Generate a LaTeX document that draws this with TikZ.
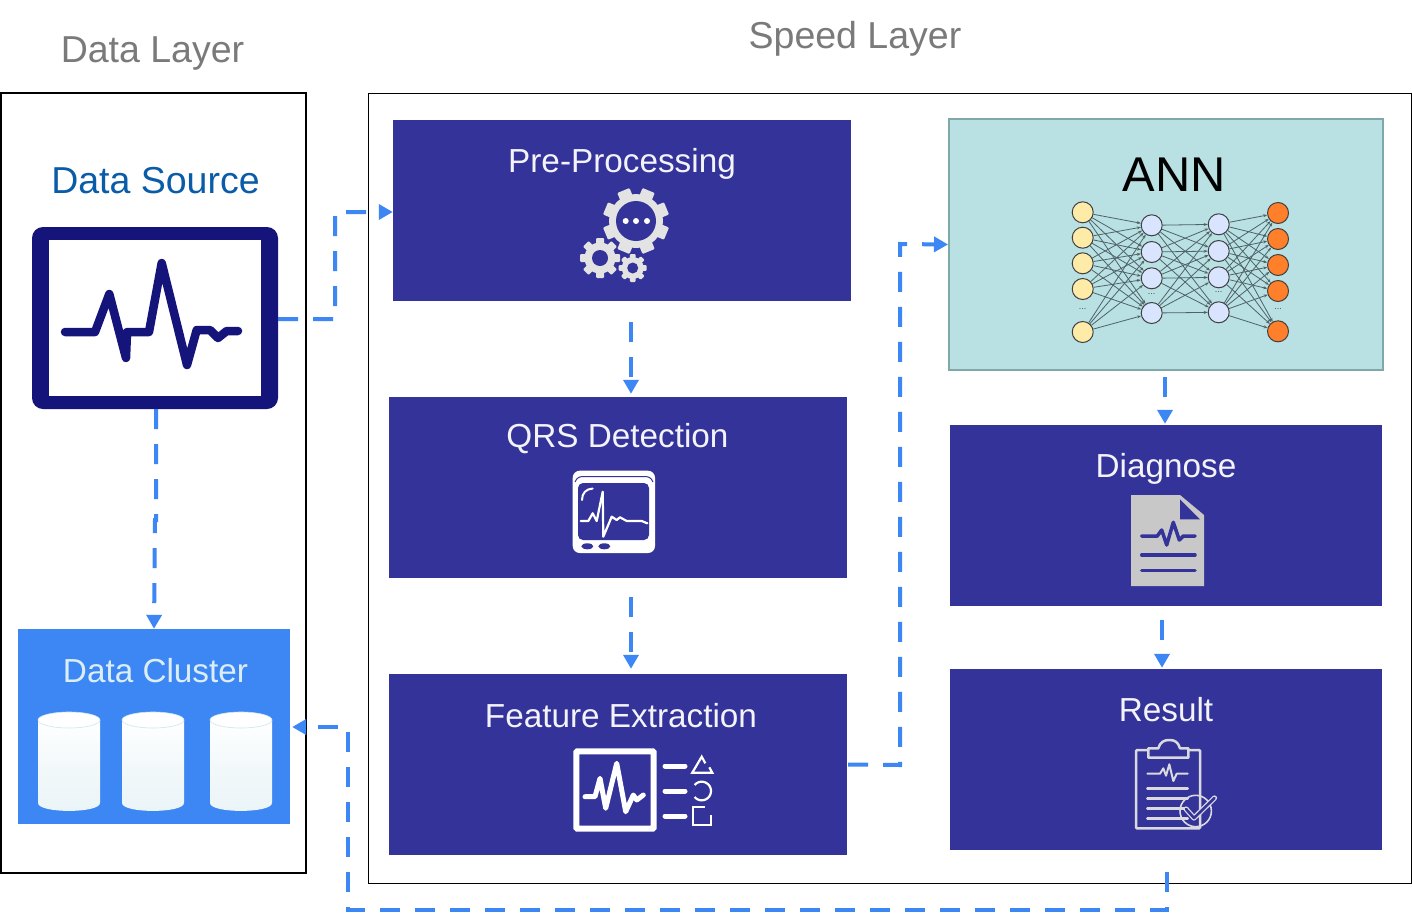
\documentclass[tikz,border=0pt]{standalone}
\usepackage{fontspec}
\setmainfont{Liberation Sans}
\usetikzlibrary{arrows.meta}
\definecolor{boxblue}{HTML}{333399}
\definecolor{flowblue}{HTML}{3D87F5}
\definecolor{navy}{HTML}{14147A}
\definecolor{gearfill}{HTML}{E3E3E3}
\definecolor{paperfill}{HTML}{C8C8C8}
\definecolor{clipfill}{HTML}{D9D9DE}
\definecolor{annfill}{HTML}{B9E0E3}
\definecolor{annedge}{HTML}{7FA8A8}
\definecolor{edgegray}{HTML}{4E6366}
\definecolor{sourceblue}{HTML}{0A5CA8}
\definecolor{cylbottom}{HTML}{EAF4F7}
\definecolor{cylrim}{HTML}{CFE5EE}
\definecolor{clustertext}{HTML}{DCEEF5}
\definecolor{inneuron}{HTML}{FFEBA8}
\definecolor{hidneuron}{HTML}{D9E5FF}
\definecolor{outneuron}{HTML}{FF7F2A}
\tikzset{
  flow/.style={draw=flowblue, line width=4pt, dash pattern=on 20pt off 15pt, -{Triangle[length=14pt,width=15pt]}},
  procbox/.style={draw=none, fill=boxblue, inner sep=0, minimum height=181pt},
  boxtitle/.style={text=white!94!boxblue, inner sep=0, font=\fontsize{33.3}{36}\selectfont},
  layertitle/.style={text=black!52, inner sep=0, font=\fontsize{37.5}{40}\selectfont},
  neuron/.style={circle, draw=black!75, line width=1pt, inner sep=0, minimum size=21pt},
  annlink/.style={draw=edgegray, line width=.8pt, -{Stealth[length=4pt,width=3pt]}},
  dotdot/.style={inner sep=0, font=\fontsize{9}{9}\selectfont, text=black!70},
  icon/.style={line cap=round, line join=round},
}
\newcommand{\drawgear}[6]{
  \foreach \a in {0,45,90,135}
    \fill[gearfill, rounded corners=1pt, rotate around={\a+#6:(#1,#2)}] (#1-#3*.2,#2-#3) rectangle (#1+#3*.2,#2+#3);
  \fill[gearfill] (#1,#2) circle (#4pt);
  \fill[boxblue] (#1,#2) circle (#5pt);
}
\begin{document}
\begin{tikzpicture}[x=1pt, y=-1pt]
\useasboundingbox (0,0) rectangle (1412,913);
\fill[white] (0,0) rectangle (1412,913);

\node[layertitle] (datalayer) at (152.5,53) {Data Layer};
\node[layertitle] (speedlayer) at (855,39) {Speed Layer};
\draw[black, line width=2pt] (1,93) rectangle (306,873);
\draw[black, line width=1pt] (368.5,93.5) rectangle (1411.5,883);

\node[text=sourceblue, inner sep=0, font=\fontsize{37.5}{40}\selectfont] (sourcetitle) at (155.5,181) {Data Source};
\node[draw=none, fill=navy, rounded corners=11pt, minimum width=246pt, minimum height=182pt, inner sep=0] (source) at (155,318) {};
\fill[white] (49,240) rectangle (261,396);
\draw[navy, icon, line width=8.5pt] (65,332) -- (95,332) -- (109.3,294) -- (126,358) -- (127,332) -- (149,332) -- (161.7,263) -- (187,365) -- (196.7,330) -- (210,330) -- (218,338) -- (226.7,331) -- (238,331);

\node[fill=flowblue, inner sep=0, minimum width=272pt, minimum height=195pt] (cluster) at (154,726.5) {};
\node[text=clustertext, inner sep=0, font=\fontsize{33.3}{36}\selectfont] (clustertitle) at (155.5,671) {Data Cluster};
\foreach \x in {38,122,210} {
 \path[top color=white, bottom color=cylbottom, middle color=cylbottom!60!white] (\x,720) -- (\x,803) .. controls (\x,813.5) and (\x+62,813.5) .. (\x+62,803) -- (\x+62,720) -- cycle;
 \draw[cylrim, fill=white, line width=.6pt] (\x+31,720) ellipse [x radius=31pt, y radius=8pt];
}

\node[procbox, minimum width=458pt] (preproc) at (622,210.5) {};
\node[boxtitle] (preproctitle) at (622,164) {Pre-Processing};
\drawgear{636}{221}{33}{27}{20}{22.5}
\drawgear{600}{258}{20}{15.5}{8}{0}
\drawgear{632.7}{268}{14}{11}{5.5}{0}
\foreach \x in {625.7,636,647}
 \fill[white] (\x,221) circle (3pt);

\node[procbox, minimum width=458pt] (qrs) at (618,487.5) {};
\node[boxtitle] (qrstitle) at (617.5,439) {QRS Detection};
\fill[white, rounded corners=7pt] (572.7,470.7) rectangle (655,553);
\draw[boxblue, line width=1pt] (575,482) .. controls (577,477) and (580,476.5) .. (584,476.5) -- (644,476.5) .. controls (648,476.5) and (651,477) .. (653,482);
\fill[boxblue, rounded corners=5pt] (578,483) rectangle (649,540);
\draw[white, icon, line width=2pt] (582,500) .. controls (582,493) and (586,489) .. (592.7,488.5);
\draw[white, icon, line width=2.2pt] (580.7,521) -- (588.3,521) -- (592.7,513.3) -- (596.7,521) -- (602.7,491.7) -- (603.3,536.7) -- (611.7,516.7) -- (616.7,520) -- (620,517.3) -- (626.7,521) -- (641.7,521) -- (647.3,523.3);
\foreach \x in {587.3,604.3}
 \fill[boxblue] (\x,546.3) ellipse [x radius=6pt, y radius=3pt];

\node[procbox, minimum width=458pt] (fe) at (618,764.5) {};
\node[boxtitle] (fetitle) at (621,716) {Feature Extraction};
\draw[white, line width=6pt, rounded corners=1pt] (576.3,751.3) rectangle (653.7,828.7);
\draw[white, icon, line width=5pt] (585,796.7) -- (595,796.7) -- (600,778.3) -- (605.7,808.3) -- (616.7,763.3) -- (625.7,811.7) -- (633.3,795) -- (636.7,800) -- (643.3,795);
\foreach \y in {766,791,816}
 \draw[white, icon, line width=5pt] (665,\y) -- (685,\y);
\draw[white, line width=2.2pt] (705.3,763.3) -- (701.7,756.7) -- (692.3,772.7) -- (712.3,772.7) -- (709.3,767.3);
\draw[white, line width=2.2pt] plot[domain=-140:140, samples=30] ({701.7+9.3*cos(\x)},{791+9.3*sin(\x)});
\draw[white, line width=2.2pt] (705,806.7) -- (693.3,806.7) -- (693.3,825) -- (711,825) -- (711,815);

\node[draw=annedge, line width=2pt, fill=annfill, inner sep=0, minimum width=434pt, minimum height=251pt] (ann) at (1166,244.5) {};
\node[inner sep=0, text=black, font=\fontsize{48.8}{52}\selectfont] (anntitle) at (1174,175) {ANN};
\foreach \y [count=\n] in {212.3,237.7,263.3,289,332}
 \node[neuron, fill=inneuron] (in\n) at (1082.7,\y) {};
\foreach \y [count=\n] in {225.3,252,278.3,313}
 \node[neuron, fill=hidneuron] (ha\n) at (1151.7,\y) {};
\foreach \y [count=\n] in {224.3,251,277.3,312.3}
 \node[neuron, fill=hidneuron] (hb\n) at (1218.7,\y) {};
\foreach \y [count=\n] in {213,239,265,291,331.3}
 \node[neuron, fill=outneuron] (out\n) at (1278,\y) {};
\foreach \a in {1,...,5}
 \foreach \b in {1,...,4}
  \draw[annlink] (in\a) -- (ha\b);
\foreach \a in {1,...,4}
 \foreach \b in {1,...,4}
  \draw[annlink] (ha\a) -- (hb\b);
\foreach \a in {1,...,4}
 \foreach \b in {1,...,5}
  \draw[annlink] (hb\a) -- (out\b);
\foreach \x/\y [count=\n] in {1082.7/309,1151.7/294,1218.7/292.5,1278/309}
 \node[dotdot] (dots\n) at (\x,\y) {...};

\node[procbox, minimum width=432pt] (diag) at (1166,515.5) {};
\node[boxtitle] (diagtitle) at (1166,469) {Diagnose};
\fill[paperfill] (1131,495) -- (1180,495) -- (1204,515) -- (1204,586) -- (1131,586) -- cycle;
\fill[boxblue] (1180,499.3) -- (1180,519.3) -- (1200,519.3) -- cycle;
\draw[boxblue, icon, line width=3.5pt] (1141.7,536) -- (1157.3,536) -- (1161.7,530) -- (1166.7,545) -- (1173.3,522.3) -- (1179.3,540) -- (1183.3,536) -- (1195,536);
\foreach \y in {555,570.7}
 \draw[boxblue, icon, line width=3.5pt] (1141.7,\y) -- (1195,\y);

\node[procbox, minimum width=432pt] (result) at (1166,759.5) {};
\node[boxtitle] (resulttitle) at (1166,710) {Result};
\draw[clipfill, line width=2.5pt, rounded corners=1pt] (1136,750) rectangle (1200,828.3);
\draw[clipfill, fill=boxblue, line width=2.5pt, line join=round] (1148.3,757.7) -- (1148.3,748.3) -- (1158.3,748.3) .. controls (1160,742) and (1164,740) .. (1169.3,740) .. controls (1175,740) and (1178,742) .. (1180,748.3) -- (1188.3,748.3) -- (1188.3,757.7) -- cycle;
\draw[clipfill, icon, line width=2pt] (1147.3,773.7) -- (1160,773.7) -- (1163.3,768.3) -- (1166,775.7) -- (1169.3,764.3) -- (1173.3,781) -- (1176.7,773.7) -- (1187.7,773.7);
\foreach \y in {788.3,798.3,808.3,818.3}
 \draw[clipfill, icon, line width=2.5pt] (1147.3,\y) -- (1187.7,\y);
\draw[clipfill, line width=1.6pt] (1195.7,811) circle (15.7pt);
\draw[clipfill, double=boxblue, double distance=2.6pt, line width=1.3pt, line join=round, line cap=round] (1186,809) -- (1194,818) -- (1214.5,798);

\draw[flow] ([yshift=-1pt]source.east) -- ++(57,0) -- (335,212) -- ([yshift=-1.5pt]preproc.west);
\draw[flow] (source.south) ++(1,0) -- (156,520) -- (155,520) -- (cluster.north);
\draw[flow] ([xshift=9pt,yshift=-21pt]preproc.south) -- ([xshift=13pt,yshift=3pt]qrs.north);
\draw[flow] ([xshift=13pt,yshift=-19pt]qrs.south) -- ([xshift=13pt,yshift=5pt]fe.north);
\draw[flow] ([xshift=1pt]fe.east) -- (900,765) -- (900,244) -- (ann.west);
\draw[flow] ([xshift=-1pt,yshift=-6pt]ann.south) -- ([xshift=-1pt,yshift=1pt]diag.north);
\draw[flow] ([xshift=-4pt,yshift=-14pt]diag.south) -- ([xshift=-4pt,yshift=1pt]result.north);
\draw[flow] ([xshift=1pt,yshift=-22pt]result.south) -- (1167,910) -- (348,910) -- (348,727) -- ([xshift=2pt]cluster.east |- 348,727);
\end{tikzpicture}
\end{document}
